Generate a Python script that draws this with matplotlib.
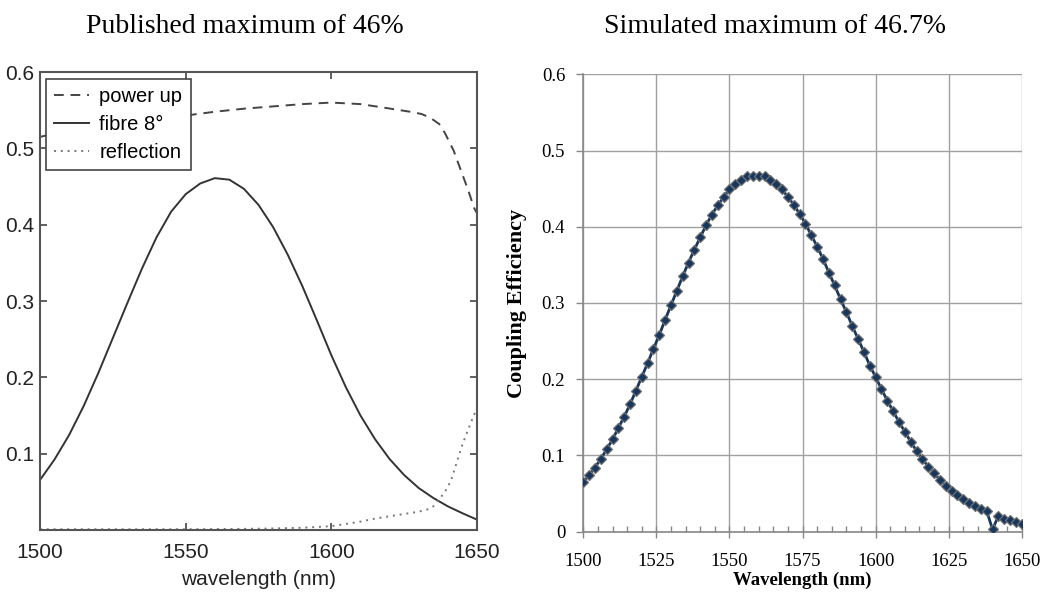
import matplotlib
matplotlib.use("Agg")
import matplotlib.pyplot as plt
from matplotlib.ticker import MultipleLocator

# ---------------- data: left (published) ----------------
pub_wl = [1500, 1505, 1510, 1515, 1520, 1525, 1530, 1535, 1540, 1545, 1550, 1555,
          1560, 1565, 1570, 1575, 1580, 1585, 1590, 1595, 1600, 1605, 1610, 1615,
          1620, 1625, 1630, 1635, 1640, 1645, 1650]
fibre = [0.0655, 0.0925, 0.1245, 0.1625, 0.2055, 0.2515, 0.2975, 0.3425, 0.3835, 0.417, 0.440, 0.454,
         0.461, 0.459, 0.447, 0.426, 0.397, 0.361, 0.320, 0.275, 0.229, 0.187, 0.150, 0.119,
         0.093, 0.072, 0.055, 0.042, 0.031, 0.022, 0.0136]
power_wl = [1500, 1510, 1520, 1530, 1540, 1550, 1560, 1570, 1580, 1590, 1600, 1610,
            1617, 1622, 1627, 1631, 1634, 1637, 1639, 1642, 1644, 1647, 1649, 1650]
power_up = [0.515, 0.524, 0.530, 0.535, 0.539, 0.543, 0.548, 0.552, 0.555, 0.558, 0.560, 0.558,
            0.554, 0.551, 0.548, 0.545, 0.540, 0.532, 0.520, 0.497, 0.476, 0.445, 0.422, 0.415]
refl_wl = [1500, 1550, 1570, 1580, 1590, 1600, 1605, 1610, 1615, 1620, 1625, 1630,
           1633, 1635, 1637, 1639, 1641, 1643, 1645, 1647, 1649, 1650]
reflection = [0.001, 0.001, 0.0015, 0.002, 0.003, 0.005, 0.008, 0.011, 0.015, 0.018, 0.021, 0.024,
              0.027, 0.031, 0.040, 0.050, 0.064, 0.088, 0.112, 0.132, 0.151, 0.160]

# ---------------- data: right (simulated) ----------------
sim_wl = list(range(1500, 1651, 2))
sim_ce = [0.0648, 0.0745, 0.0841, 0.0955, 0.108, 0.121, 0.136, 0.151, 0.167, 0.185,
          0.203, 0.221, 0.240, 0.258, 0.278, 0.297, 0.316, 0.335, 0.353, 0.370,
          0.386, 0.402, 0.416, 0.428, 0.439, 0.449, 0.456, 0.462, 0.466, 0.467,
          0.467, 0.466, 0.462, 0.456, 0.449, 0.439, 0.429, 0.417, 0.404, 0.389,
          0.374, 0.358, 0.340, 0.323, 0.305, 0.288, 0.270, 0.253, 0.236, 0.218,
          0.203, 0.187, 0.172, 0.158, 0.144, 0.131, 0.118, 0.106, 0.0955, 0.0854,
          0.0767, 0.0679, 0.0604, 0.0539, 0.0477, 0.0425, 0.0381, 0.0337, 0.0298, 0.0272,
          0.003, 0.0206, 0.0171, 0.0149, 0.0123, 0.0096]

left_title = "Published maximum of 46%"
right_title = "Simulated maximum of 46.7%"

fig = plt.figure(figsize=(10.44, 5.93), dpi=100)

sans = ["Liberation Sans", "DejaVu Sans"]
serif = ["Liberation Serif", "DejaVu Serif"]

# ---------------- left axes ----------------
axL = fig.add_axes([0.0383, 0.1062, 0.4186, 0.7723])
axL.plot(power_wl, power_up, color="#444444", lw=1.4, ls=(0, (5, 3.5)), label="power up")
axL.plot(pub_wl, fibre, color="#333333", lw=1.4, label="fibre 8\u00b0")
axL.plot(refl_wl, reflection, color="#777777", lw=1.4, ls=(0, (1, 2.5)), label="reflection")
axL.set_xlim(1500, 1650)
axL.set_ylim(0, 0.6)
axL.set_xticks([1500, 1550, 1600, 1650])
axL.set_yticks([0.1, 0.2, 0.3, 0.4, 0.5, 0.6])
axL.set_yticklabels(["0.1", "0.2", "0.3", "0.4", "0.5", "0.6"])
axL.tick_params(axis="both", direction="in", length=5, width=1.2, color="#444444", top=True,
                right=True, labelsize=15)
axL.tick_params(axis="x", pad=9)
axL.tick_params(axis="y", pad=4)
for lab in axL.get_xticklabels() + axL.get_yticklabels():
    lab.set_family(sans)
    lab.set_color("#222222")
for sp in axL.spines.values():
    sp.set_color("#555555")
    sp.set_linewidth(1.5)
axL.set_xlabel("wavelength (nm)", fontsize=15, family=sans, color="#222222")
axL.xaxis.set_label_coords(0.5, -0.088)
leg = axL.legend(loc="upper left", bbox_to_anchor=(0.014, 0.985), borderaxespad=0,
                 prop={"family": sans, "size": 14.5}, fancybox=False, framealpha=1,
                 edgecolor="#444444", handlelength=1.75, handletextpad=0.5,
                 labelspacing=0.45, borderpad=0.4)
leg.get_frame().set_linewidth(1.2)
fig.text(0.235, 0.955, left_title, ha="center", va="center", fontsize=20, family=serif)

# ---------------- right axes ----------------
axR = fig.add_axes([0.5587, 0.1034, 0.420, 0.7713])
axR.plot(sim_wl, sim_ce, color="#17375E", lw=2.0, marker="D", markersize=5.3,
         markerfacecolor="#17375E", markeredgecolor="#707070", markeredgewidth=0.9, zorder=3)
axR.set_xlim(1500, 1650)
axR.set_ylim(0, 0.6)
axR.set_xticks([1500, 1525, 1550, 1575, 1600, 1625, 1650])
axR.xaxis.set_minor_locator(MultipleLocator(5))
axR.set_yticks([0, 0.1, 0.2, 0.3, 0.4, 0.5, 0.6])
axR.set_yticklabels(["0", "0.1", "0.2", "0.3", "0.4", "0.5", "0.6"])
axR.grid(True, which="major", color="#a0a0a0", lw=1.0)
axR.set_axisbelow(True)
for s in ["top", "right"]:
    axR.spines[s].set_visible(False)
for s in ["left", "bottom"]:
    axR.spines[s].set_color("#888888")
    axR.spines[s].set_linewidth(1.2)
axR.tick_params(axis="x", which="major", direction="inout", length=9, width=1.0,
                color="#888888", labelsize=13.5, pad=11)
axR.tick_params(axis="x", which="minor", direction="in", length=4, width=1.0, color="#888888")
axR.tick_params(axis="y", which="major", direction="out", length=5, width=1.0,
                color="#888888", labelsize=13.5, pad=8)
for lab in axR.get_xticklabels() + axR.get_yticklabels():
    lab.set_family(serif)
axR.set_xlabel("Wavelength (nm)", fontsize=13.5, family=serif, fontweight="bold")
axR.xaxis.set_label_coords(0.5, -0.088)
axR.set_ylabel("Coupling Efficiency", fontsize=16, family=serif, fontweight="bold")
axR.yaxis.set_label_coords(-0.128, 0.5)
fig.text(0.742, 0.955, right_title, ha="center", va="center", fontsize=20, family=serif)

fig.savefig("out.png", dpi=100, facecolor="white")
